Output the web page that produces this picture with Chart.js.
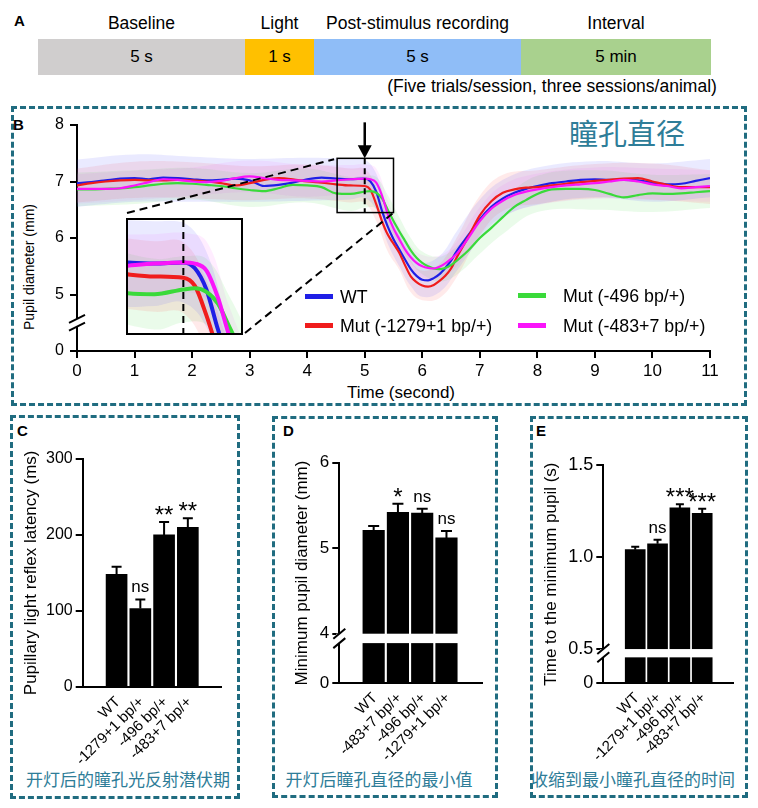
<!DOCTYPE html>
<html>
<head>
<meta charset="utf-8">
<script src="https://cdn.jsdelivr.net/npm/chart.js@4.4.1/dist/chart.umd.min.js"></script>
<style>
  body { margin: 0; width: 758px; height: 808px; position: relative; background: #fff; overflow: hidden;
         font-family: "Liberation Sans", Arial, sans-serif; color: #000; }
  .frame { position: absolute; border: 3px dashed #206c80; box-sizing: border-box; }
  .panel { position: absolute; font-weight: bold; font-size: 15px; }
  .t { position: absolute; white-space: nowrap; transform: translate(-50%, -50%); }
  .cn { position: absolute; white-space: nowrap; transform: translate(-50%, -50%); color: #2e7d98;
        font-family: "Noto Sans CJK SC", sans-serif; }
  .seg { position: absolute; top: 0; height: 100%; display: flex; align-items: center; justify-content: center; font-size: 17px; }
  .leg { position: absolute; font-size: 17.8px; white-space: nowrap; transform: translateY(-50%); }
  .sw { position: absolute; height: 5px; width: 28px; }
  .xl { position: absolute; white-space: nowrap; font-size: 15px; line-height: 18px; height: 18px;
        transform-origin: 100% 50%; transform: rotate(-45deg); }
  canvas { position: absolute; }
</style>
</head>
<body>
<div class="panel" style="left:14px;top:12px">A</div>
<div id="timeline" style="position:absolute;left:38px;top:39px;width:673px;height:36px"></div>
<div class="t" style="left:552px;top:86px;font-size:17.5px">(Five trials/session, three sessions/animal)</div>

<div class="frame" style="left:11px;top:106px;width:736px;height:300px"></div>
<div class="panel" style="left:13px;top:116px">B</div>
<div class="cn" style="left:627px;top:132px;font-size:29px">瞳孔直径</div>
<div class="t" style="left:29px;top:267px;font-size:14px;transform:translate(-50%,-50%) rotate(-90deg)">Pupil diameter (mm)</div>
<div class="t" style="left:401px;top:393px;font-size:17px">Time (second)</div>

<div class="frame" style="left:10px;top:415px;width:230px;height:384px"></div>
<div class="panel" style="left:17px;top:422px">C</div>
<div class="cn" style="left:128px;top:778px;font-size:17px">开灯后的瞳孔光反射潜伏期</div>

<div class="frame" style="left:272px;top:416px;width:226px;height:382px"></div>
<div class="panel" style="left:283px;top:422px">D</div>
<div class="cn" style="left:379px;top:778px;font-size:17px">开灯后瞳孔直径的最小值</div>

<div class="frame" style="left:530px;top:416px;width:218px;height:382px"></div>
<div class="panel" style="left:536px;top:422px">E</div>
<div class="cn" style="left:633px;top:778px;font-size:17px">收缩到最小瞳孔直径的时间</div>

<script>
// ---- panel A: protocol timeline
const phaseNames = ['Baseline', 'Light', 'Post-stimulus recording', 'Interval'];
const phaseDurations = ['5 s', '1 s', '5 s', '5 min'];

// ---- panel B: mean pupil diameter traces (mm) over time (s)
const times = [0, 0.25, 0.5, 0.75, 1, 1.25, 1.5, 1.75, 2, 2.25, 2.5, 2.75, 3, 3.25, 3.5, 3.75, 4, 4.25, 4.5, 4.75,
  5, 5.1, 5.2, 5.3, 5.4, 5.5, 5.6, 5.7, 5.8, 5.9, 6, 6.1, 6.2, 6.3, 6.4, 6.5, 6.6,
  6.8, 7, 7.2, 7.4, 7.6, 7.8, 8,
  8.25, 8.5, 8.75, 9, 9.25, 9.5, 9.75, 10, 10.25, 10.5, 10.75, 11];
const wtMean = [6.97, 6.99, 7.02, 7.05, 7.06, 7.04, 7.07, 7.06, 7.04, 7.02, 7.03, 7.05, 7.02, 6.92, 6.94, 6.98, 7.04, 7.07, 7.05, 7.04,
  7.05, 7.0, 6.82, 6.48, 6.2, 5.98, 5.8, 5.62, 5.45, 5.33, 5.26, 5.25, 5.29, 5.36, 5.47, 5.6, 5.77,
  6.05, 6.33, 6.55, 6.7, 6.8, 6.87, 6.92,
  6.97, 7.0, 7.03, 7.04, 7.03, 7.03, 7.02, 6.98, 6.95, 6.96, 7.01, 7.06];
const mut1279Mean = [6.93, 6.97, 7.0, 7.02, 7.03, 7.02, 7.02, 7.03, 7.02, 7.0, 6.97, 6.93, 6.97, 7.03, 7.06, 7.04, 7.0, 6.98, 6.95, 6.93,
  6.92, 6.85, 6.6, 6.3, 6.06, 5.9, 5.74, 5.52, 5.32, 5.22, 5.16, 5.14, 5.17, 5.24, 5.33, 5.46, 5.66,
  6.02, 6.4, 6.65, 6.8, 6.86, 6.89, 6.9,
  6.93, 6.96, 6.99, 7.01, 7.03, 7.05, 7.06, 7.0, 6.94, 6.9, 6.9, 6.9];
const mut496Mean = [6.86, 6.86, 6.87, 6.88, 6.9, 6.93, 6.96, 6.97, 6.96, 6.94, 6.92, 6.88, 6.85, 6.83, 6.88, 6.94, 6.93, 6.9, 6.79, 6.78,
  6.82, 6.83, 6.8, 6.7, 6.5, 6.3, 6.12, 5.95, 5.78, 5.65, 5.56, 5.5, 5.46, 5.45, 5.47, 5.52, 5.6,
  5.78, 6.0, 6.18, 6.37, 6.55, 6.67, 6.78,
  6.86, 6.87, 6.87, 6.85, 6.78, 6.72, 6.76, 6.79, 6.78, 6.79, 6.81, 6.83];
const mut483Mean = [6.87, 6.87, 6.87, 6.88, 6.93, 6.99, 7.04, 7.03, 7.0, 6.99, 7.01, 7.06, 7.09, 7.06, 7.03, 7.02, 7.01, 7.0, 7.02, 7.04,
  7.05, 7.04, 6.98, 6.75, 6.42, 6.17, 5.98, 5.8, 5.66, 5.56, 5.5, 5.47, 5.46, 5.49, 5.55, 5.63, 5.72,
  6.0, 6.3, 6.52, 6.66, 6.76, 6.82, 6.86,
  6.9, 6.93, 6.95, 6.97, 7.0, 7.03, 7.0, 6.95, 6.92, 6.88, 6.9, 6.92];
// SEM band half-widths, read at a coarser set of times
const bandTimes = [0, 1, 2, 3, 4, 4.75, 5, 5.2, 5.4, 5.6, 5.8, 6, 6.3, 6.6, 7, 7.4, 8, 9, 10, 11];
const wtSem = [0.42, 0.42, 0.4, 0.38, 0.38, 0.36, 0.34, 0.32, 0.3, 0.3, 0.3, 0.3, 0.32, 0.35, 0.35, 0.33, 0.33, 0.32, 0.34, 0.34];
const mut1279Sem = [0.3, 0.32, 0.32, 0.3, 0.3, 0.3, 0.3, 0.3, 0.3, 0.3, 0.28, 0.26, 0.3, 0.35, 0.35, 0.32, 0.3, 0.3, 0.32, 0.3];
const mut496Sem = [0.3, 0.3, 0.28, 0.3, 0.3, 0.3, 0.28, 0.28, 0.26, 0.25, 0.22, 0.2, 0.22, 0.25, 0.28, 0.3, 0.32, 0.35, 0.33, 0.3];
const mut483Sem = [0.26, 0.26, 0.25, 0.28, 0.28, 0.25, 0.25, 0.25, 0.25, 0.22, 0.2, 0.2, 0.2, 0.22, 0.25, 0.28, 0.28, 0.28, 0.28, 0.28];
const seriesNames = ['WT', 'Mut (-1279+1 bp/+)', 'Mut (-496 bp/+)', 'Mut (-483+7 bp/+)'];
const bTickValues = [4, 5, 6, 7, 8];
const bTickLabels = ['0', '5', '6', '7', '8'];
const lightOn = 5;
const zoomX = [4.52, 5.5];
const zoomY = [6.45, 7.41];

// ---- panel C: latency (ms)
const cLabels = ['WT', '-1279+1 bp/+', '-496 bp/+', '-483+7 bp/+'];
const cMeans = [148, 103, 200, 210];
const cSem = [10, 12, 17, 12];
const cSig = ['', 'ns', '**', '**'];
const cTickValues = [0, 100, 200, 300];
const cTickLabels = ['0', '100', '200', '300'];

// ---- panel D: minimum pupil diameter (mm), axis broken below 4
const dLabels = ['WT', '-483+7 bp/+', '-496 bp/+', '-1279+1 bp/+'];
const dMeans = [5.21, 5.42, 5.41, 5.12];
const dSem = [0.05, 0.1, 0.05, 0.08];
const dSig = ['', '*', 'ns', 'ns'];
const dTickValues = [3.42, 4, 5, 6];
const dTickLabels = ['0', '4', '5', '6'];

// ---- panel E: time to minimum pupil (s), axis broken below 0.5
const eLabels = ['WT', '-1279+1 bp/+', '-496 bp/+', '-483+7 bp/+'];
const eMeans = [1.04, 1.072, 1.267, 1.238];
const eSem = [0.016, 0.022, 0.02, 0.024];
const eSig = ['', 'ns', '***', '***'];
const eTickValues = [0.314, 0.5, 1.0, 1.5];
const eTickLabels = ['0', '0.5', '1.0', '1.5'];

Chart.defaults.font.family = '"Liberation Sans", Arial, sans-serif';
Chart.defaults.color = '#000';
const FONT = '"Liberation Sans", Arial, sans-serif';

// timeline blocks
const phaseColors = ['#d0cece', '#ffc000', '#8fbdf7', '#a9d18e'];
const phaseWidths = [207, 69, 207, 190];
const tl = document.getElementById('timeline');
let acc = 0;
phaseNames.forEach((name, i) => {
  const seg = document.createElement('div');
  seg.className = 'seg';
  seg.style.cssText += `left:${acc}px;width:${phaseWidths[i]}px;background:${phaseColors[i]}`;
  seg.textContent = phaseDurations[i];
  tl.appendChild(seg);
  const head = document.createElement('div');
  head.className = 't';
  head.style.cssText = `left:${38 + acc + phaseWidths[i] / 2}px;top:23px;font-size:17.5px`;
  head.textContent = name;
  document.body.appendChild(head);
  acc += phaseWidths[i];
});

function makeCanvas(c) {
  const el = document.createElement('canvas');
  el.width = c.w; el.height = c.h;
  el.style.cssText = `left:${c.l}px;top:${c.t}px;width:${c.w}px;height:${c.h}px`;
  document.body.appendChild(el);
  return el;
}
function fixSize(size) {
  return s => {
    if (s.isHorizontal()) s.height = size; else s.width = size;
    s.paddingTop = s.paddingBottom = s.paddingLeft = s.paddingRight = 0;
  };
}

// ---------------- panel B ----------------
const means = [wtMean, mut1279Mean, mut496Mean, mut483Mean];
const sems = [wtSem, mut1279Sem, mut496Sem, mut483Sem];
const lineColors = ['#1f1fe6', '#f01c1c', '#3ada3a', '#fa14fa'];
const bandColors = ['rgba(80,80,255,0.12)', 'rgba(255,80,80,0.12)', 'rgba(80,220,80,0.12)', 'rgba(255,80,255,0.10)'];

function traceDatasets(width) {
  const lines = means.map((m, k) => ({
    label: seriesNames[k],
    data: times.map((t, i) => ({ x: t, y: m[i] })),
    borderColor: lineColors[k], borderWidth: width, pointRadius: 0, fill: false,
    cubicInterpolationMode: 'monotone', order: 3 - k
  }));
  const bands = [];
  means.forEach((m, k) => {
    const at = sign => bandTimes.map((t, i) => ({ x: t, y: m[times.indexOf(t)] + sign * sems[k][i] }));
    bands.push({ data: at(1), borderWidth: 0, pointRadius: 0, backgroundColor: bandColors[k], fill: '+1', tension: 0.4, order: 10 });
    bands.push({ data: at(-1), borderWidth: 0, pointRadius: 0, fill: false, tension: 0.4, order: 10 });
  });
  return lines.concat(bands);
}

const bBox = { l: 0, t: 100, w: 758, h: 310 };
const bArea = { l: 77, t: 125, r: 710, b: 351 };
const insetBox = { l: 126, t: 218, w: 117, h: 117 };

const bAnnot = {
  id: 'bAnnot',
  afterDatasetsDraw(chart) {
    const { ctx, chartArea, scales: { x, y } } = chart;
    ctx.save();
    ctx.strokeStyle = '#000';
    // axis break
    const yb1 = y.getPixelForValue(4.57), yb2 = y.getPixelForValue(4.43);
    ctx.fillStyle = '#fff';
    ctx.fillRect(chartArea.left - 3, yb1, 6, yb2 - yb1);
    ctx.lineWidth = 2;
    [yb1, yb2].forEach(yy => { ctx.beginPath(); ctx.moveTo(chartArea.left - 8, yy + 4); ctx.lineTo(chartArea.left + 8, yy - 4); ctx.stroke(); });
    // zoom window
    const rx1 = x.getPixelForValue(zoomX[0]), rx2 = x.getPixelForValue(zoomX[1]);
    const ry1 = y.getPixelForValue(zoomY[1]), ry2 = y.getPixelForValue(zoomY[0]);
    ctx.lineWidth = 1.5;
    ctx.strokeRect(rx1, ry1, rx2 - rx1, ry2 - ry1);
    const sx = x.getPixelForValue(lightOn);
    ctx.lineWidth = 2;
    ctx.setLineDash([6, 4]);
    ctx.beginPath(); ctx.moveTo(sx, ry1); ctx.lineTo(sx, ry2); ctx.stroke();
    // connectors to the inset
    ctx.setLineDash([8, 5]);
    ctx.beginPath();
    ctx.moveTo(insetBox.l + 1, insetBox.t - 5 - bBox.t); ctx.lineTo(rx1 - 3, ry1 + 1);
    ctx.moveTo(insetBox.l + insetBox.w + 2, insetBox.t + insetBox.h - 2 - bBox.t); ctx.lineTo(rx2 - 1, ry2 + 1);
    ctx.stroke();
    ctx.setLineDash([]);
    // light-on arrow
    ctx.lineWidth = 2.5;
    ctx.beginPath(); ctx.moveTo(sx, ry1 - 36); ctx.lineTo(sx, ry1 - 12); ctx.stroke();
    ctx.fillStyle = '#000';
    ctx.beginPath(); ctx.moveTo(sx - 7, ry1 - 13); ctx.lineTo(sx + 7, ry1 - 13); ctx.lineTo(sx, ry1); ctx.closePath(); ctx.fill();
    ctx.restore();
  }
};

const bPadLeft = 10;
new Chart(makeCanvas(bBox), {
  type: 'line',
  data: { datasets: traceDatasets(2.2) },
  plugins: [bAnnot],
  options: {
    responsive: false, animation: false,
    layout: { padding: { left: bPadLeft, right: bBox.l + bBox.w - bArea.r, top: bArea.t - bBox.t, bottom: bBox.t + bBox.h - bArea.b - 40 } },
    plugins: { legend: { display: false }, tooltip: { enabled: false } },
    scales: {
      x: {
        type: 'linear', min: 0, max: 11,
        afterBuildTicks: s => { s.ticks = times.filter(t => Number.isInteger(t)).map(v => ({ value: v })); },
        ticks: { font: { size: 17 }, padding: 3 },
        grid: { drawOnChartArea: false, color: '#000', lineWidth: 2, tickLength: 7 },
        border: { color: '#000', width: 2 },
        afterFit: fixSize(40)
      },
      y: {
        min: 4, max: 8,
        afterBuildTicks: s => { s.ticks = bTickValues.map(v => ({ value: v })); },
        ticks: { font: { size: 16 }, padding: 6, callback: v => bTickLabels[bTickValues.indexOf(v)] },
        grid: { drawOnChartArea: false, color: '#000', lineWidth: 2, tickLength: 7 },
        border: { color: '#000', width: 2 },
        afterFit: fixSize(bArea.l - bBox.l - bPadLeft)
      }
    }
  }
});

// inset: same traces, zoomed on the light onset
const insetWrap = document.createElement('div');
insetWrap.style.cssText = `position:absolute;left:${insetBox.l}px;top:${insetBox.t}px;width:${insetBox.w}px;height:${insetBox.h}px;border:2px solid #000;box-sizing:border-box;background:#fff`;
document.body.appendChild(insetWrap);
const insetCanvas = document.createElement('canvas');
insetCanvas.width = insetBox.w - 4; insetCanvas.height = insetBox.h - 4;
insetCanvas.style.cssText = `left:0;top:0;width:${insetBox.w - 4}px;height:${insetBox.h - 4}px`;
insetWrap.appendChild(insetCanvas);
const insetMark = {
  id: 'insetMark',
  afterDatasetsDraw(chart) {
    const { ctx, chartArea, scales: { x } } = chart;
    const sx = x.getPixelForValue(lightOn);
    ctx.save();
    ctx.strokeStyle = '#000'; ctx.lineWidth = 2; ctx.setLineDash([7, 5]);
    ctx.beginPath(); ctx.moveTo(sx, chartArea.top); ctx.lineTo(sx, chartArea.bottom); ctx.stroke();
    ctx.restore();
  }
};
new Chart(insetCanvas, {
  type: 'line',
  data: { datasets: traceDatasets(4) },
  plugins: [insetMark],
  options: {
    responsive: false, animation: false,
    layout: { padding: 0 },
    plugins: { legend: { display: false }, tooltip: { enabled: false } },
    scales: {
      x: { type: 'linear', min: zoomX[0], max: zoomX[1], display: false },
      y: { min: zoomY[0], max: zoomY[1], display: false }
    }
  }
});

// legend
const legendSlots = [[305, 340, 297], [305, 340, 326], [518, 563, 296], [518, 563, 326]];
seriesNames.forEach((name, k) => {
  const [sx, tx, cy] = legendSlots[k];
  const sw = document.createElement('div');
  sw.className = 'sw';
  sw.style.cssText = `left:${sx}px;top:${cy - 3}px;background:${lineColors[k]}`;
  document.body.appendChild(sw);
  const lb = document.createElement('div');
  lb.className = 'leg';
  lb.style.cssText = `left:${tx}px;top:${cy}px`;
  lb.textContent = name;
  document.body.appendChild(lb);
});

// ---------------- bar panels C, D, E ----------------
function barChart(cfg) {
  const c = cfg.box, a = cfg.area;
  const titleSize = 17;
  const padLeft = cfg.titleX - (4 + 0.6 * titleSize) - c.l;
  const xH = 90;
  const extras = {
    id: 'barExtras',
    afterDatasetsDraw(chart) {
      const { ctx, chartArea, scales: { y } } = chart;
      ctx.save();
      ctx.strokeStyle = '#000'; ctx.fillStyle = '#000'; ctx.lineWidth = 2;
      if (cfg.breakAt) {
        const yHi = y.getPixelForValue(cfg.breakAt[0]), yLo = y.getPixelForValue(cfg.breakAt[1]);
        ctx.fillStyle = '#fff';
        ctx.fillRect(chartArea.left - 3, yHi, chartArea.right - chartArea.left + 3, yLo - yHi);
        ctx.fillStyle = '#000';
        [yHi, yLo].forEach(yy => { ctx.beginPath(); ctx.moveTo(chartArea.left - 6, yy + 5); ctx.lineTo(chartArea.left + 6, yy - 5); ctx.stroke(); });
      }
      chart.getDatasetMeta(0).data.forEach((bar, i) => {
        const top = y.getPixelForValue(cfg.means[i] + cfg.sems[i]);
        ctx.beginPath();
        ctx.moveTo(bar.x, bar.y); ctx.lineTo(bar.x, top);
        ctx.moveTo(bar.x - cfg.cap / 2, top); ctx.lineTo(bar.x + cfg.cap / 2, top);
        ctx.stroke();
        const s = cfg.sig[i];
        if (s) {
          const star = s.includes('*');
          ctx.textAlign = 'center'; ctx.textBaseline = 'alphabetic';
          ctx.font = (star ? 24 : 17) + 'px ' + FONT;
          ctx.fillText(s, bar.x, star ? top + 1 : top - 7);
        }
      });
      ctx.restore();
    }
  };
  const chart = new Chart(makeCanvas(c), {
    type: 'bar',
    data: { datasets: [{ data: cfg.means.map((v, i) => ({ x: i + 1, y: v })), backgroundColor: '#000', barThickness: cfg.barW }] },
    plugins: [extras],
    options: {
      responsive: false, animation: false,
      layout: { padding: { left: padLeft, right: c.l + c.w - a.r, top: a.t - c.t, bottom: c.t + c.h - a.b - xH } },
      plugins: { legend: { display: false }, tooltip: { enabled: false } },
      scales: {
        x: {
          type: 'linear', min: cfg.xRange[0], max: cfg.xRange[1], bounds: 'data',
          afterBuildTicks: s => { s.ticks = cfg.labels.map((_, i) => ({ value: i + 1 })); },
          ticks: { display: false },
          grid: { display: false },
          border: { color: '#000', width: 2 },
          afterFit: fixSize(xH)
        },
        y: {
          min: cfg.tickValues[0], max: cfg.tickValues[cfg.tickValues.length - 1],
          afterBuildTicks: s => { s.ticks = cfg.tickValues.map(v => ({ value: v })); },
          ticks: { font: { size: cfg.tickSize }, padding: 3, callback: v => cfg.tickLabels[cfg.tickValues.indexOf(v)] },
          grid: { drawOnChartArea: false, color: '#000', lineWidth: 2, tickLength: 7 },
          border: { color: '#000', width: 2 },
          title: { display: true, text: cfg.title, font: { size: titleSize }, padding: { top: 4, bottom: 0 } },
          afterFit: fixSize(a.l - c.l - padLeft)
        }
      }
    }
  });
  // slanted category labels, anchored at their right end under each bar
  const xs = chart.scales.x, axisY = c.t + chart.chartArea.bottom;
  cfg.labels.forEach((name, i) => {
    const px = c.l + xs.getPixelForValue(i + 1);
    const el = document.createElement('div');
    el.className = 'xl';
    el.textContent = name;
    el.style.right = (758 - (px + 1)) + 'px';
    el.style.top = (axisY + 12 - 9) + 'px';
    document.body.appendChild(el);
  });
}

barChart({
  box: { l: 12, t: 440, w: 228, h: 355 }, area: { l: 82.7, t: 459, r: 221.7, b: 686.7 }, titleX: 31.7,
  xRange: [0.305, 4.694], barW: 21, cap: 10, tickSize: 16,
  labels: cLabels, means: cMeans, sems: cSem, sig: cSig, tickValues: cTickValues, tickLabels: cTickLabels,
  title: 'Pupillary light reflex latency (ms)'
});
barChart({
  box: { l: 276, t: 440, w: 219, h: 355 }, area: { l: 339.3, t: 462.7, r: 482.7, b: 683.3 }, titleX: 302.3,
  xRange: [0.323, 4.754], barW: 21.5, cap: 11, tickSize: 17, breakAt: [4.0, 3.89],
  labels: dLabels, means: dMeans, sems: dSem, sig: dSig, tickValues: dTickValues, tickLabels: dTickLabels,
  title: 'Minimum pupil diameter (mm)'
});
barChart({
  box: { l: 533, t: 440, w: 212, h: 355 }, area: { l: 603.3, t: 465, r: 733.3, b: 683.3 }, titleX: 551.7,
  xRange: [0.298, 4.665], barW: 20, cap: 8, tickSize: 18, breakAt: [0.5, 0.455],
  labels: eLabels, means: eMeans, sems: eSem, sig: eSig, tickValues: eTickValues, tickLabels: eTickLabels,
  title: 'Time to the minimum pupil (s)'
});
</script>
</body>
</html>
